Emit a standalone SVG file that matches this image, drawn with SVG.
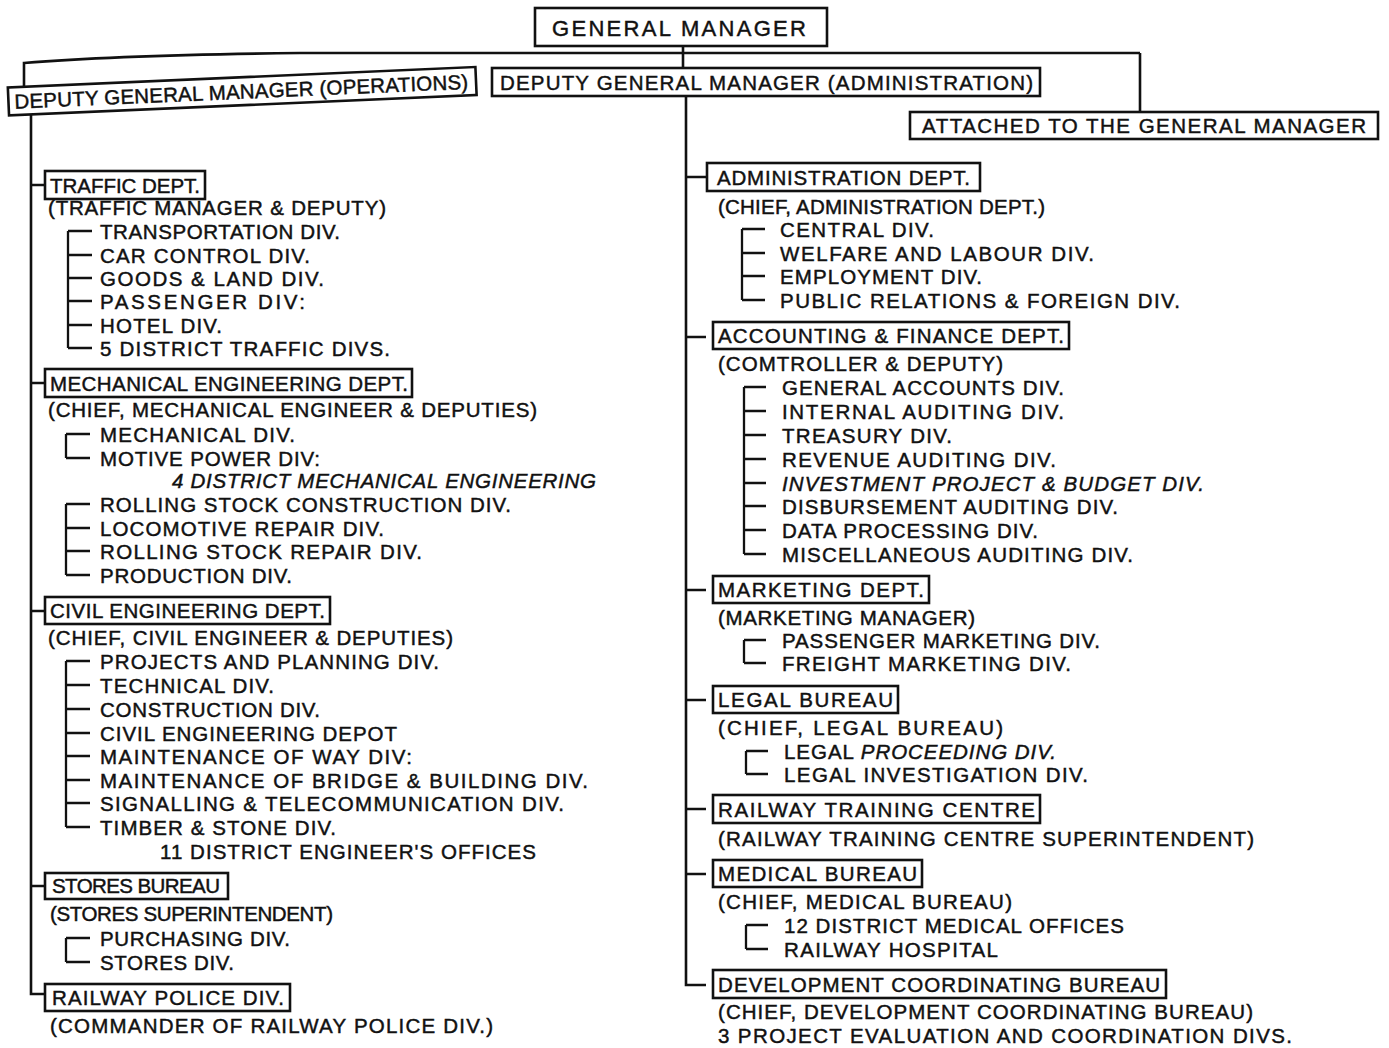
<svg xmlns="http://www.w3.org/2000/svg" width="1389" height="1048" viewBox="0 0 1389 1048">
<style>
text{font-family:"Liberation Sans",Arial,sans-serif;font-size:20.5px;fill:#111;stroke:#111;stroke-width:0.45px;}
.gm{font-size:22px;}
.it{font-style:italic;}
.box{fill:#fff;stroke:#111;stroke-width:2.6;}
.ln{fill:none;stroke:#111;stroke-width:2.6;}
.br{fill:none;stroke:#111;stroke-width:2.3;}
</style>
<rect width="1389" height="1048" fill="#fff"/>
<g id="connectors">
<path class="ln" d="M683 46 L683 68"/>
<path class="ln" d="M1140 53 L300 53 Q120 55 24 63 L24 87"/>
<path class="ln" d="M1140 53 L1140 112"/>
<path class="ln" d="M31 114 L31 994 L45 994"/>
<path class="ln" d="M31 185 L45 185 M31 383 L45 383 M31 611 L45 611 M31 886 L45 886"/>
<path class="ln" d="M686 96 L686 985 L706 985"/>
<path class="ln" d="M686 177 L707 177 M686 337 L706 337 M686 590 L706 590 M686 700 L706 700 M686 809 L706 809 M686 874 L706 874"/>
<path class="br" d="M68 231 L68 348 M68 231 L92 231 M68 255 L92 255 M68 278 L92 278 M68 301 L92 301 M68 325 L92 325 M68 348 L92 348"/>
<path class="br" d="M66 434 L66 458 M66 434 L90 434 M66 458 L90 458"/>
<path class="br" d="M66 504 L66 575 M66 504 L90 504 M66 528 L90 528 M66 551 L90 551 M66 575 L90 575"/>
<path class="br" d="M66 661 L66 827 M66 661 L90 661 M66 685 L90 685 M66 709 L90 709 M66 733 L90 733 M66 756 L90 756 M66 780 L90 780 M66 803 L90 803 M66 827 L90 827"/>
<path class="br" d="M66 938 L66 962 M66 938 L90 938 M66 962 L90 962"/>
<path class="br" d="M742 229 L742 300 M742 229 L765 229 M742 253 L765 253 M742 276 L765 276 M742 300 L765 300"/>
<path class="br" d="M744 387 L744 554 M744 387 L766 387 M744 411 L766 411 M744 435 L766 435 M744 459 L766 459 M744 483 L766 483 M744 506 L766 506 M744 530 L766 530 M744 554 L766 554"/>
<path class="br" d="M744 640 L744 663 M744 640 L766 640 M744 663 L766 663"/>
<path class="br" d="M746 751 L746 774 M746 751 L768 751 M746 774 L768 774"/>
<path class="br" d="M746 925 L746 949 M746 925 L768 925 M746 949 L768 949"/>
</g>
<g id="general-manager">
<rect class="box" x="535" y="8" width="292" height="38"/>
<text class="gm" x="552" y="36" textLength="254" lengthAdjust="spacing">GENERAL MANAGER</text>
</g>
<g id="dgm-operations" transform="rotate(-2.5 476 81)">
<rect class="box" x="8" y="67" width="468" height="28"/>
<text x="14" y="88.5" textLength="454" lengthAdjust="spacing">DEPUTY GENERAL MANAGER (OPERATIONS)</text>
</g>
<g id="dgm-administration">
<rect class="box" x="492" y="68" width="548" height="28"/>
<text x="500" y="89.5" textLength="533" lengthAdjust="spacing">DEPUTY GENERAL MANAGER (ADMINISTRATION)</text>
</g>
<g id="attached">
<rect class="box" x="910" y="112" width="468" height="27"/>
<text x="922" y="133" textLength="444" lengthAdjust="spacing">ATTACHED TO THE GENERAL MANAGER</text>
</g>
<g id="traffic-dept">
<rect class="box" x="45" y="171" width="160" height="28"/>
<text x="50" y="192.5" textLength="150" lengthAdjust="spacing">TRAFFIC DEPT.</text>
<text x="48" y="215" textLength="338" lengthAdjust="spacing">(TRAFFIC MANAGER &amp; DEPUTY)</text>
<text x="100" y="239" textLength="240" lengthAdjust="spacing">TRANSPORTATION DIV.</text>
<text x="100" y="263" textLength="210" lengthAdjust="spacing">CAR CONTROL DIV.</text>
<text x="100" y="286" textLength="224" lengthAdjust="spacing">GOODS &amp; LAND DIV.</text>
<text x="100" y="309" textLength="205" lengthAdjust="spacing">PASSENGER DIV:</text>
<text x="100" y="333" textLength="122" lengthAdjust="spacing">HOTEL DIV.</text>
<text x="100" y="356" textLength="290" lengthAdjust="spacing">5 DISTRICT TRAFFIC DIVS.</text>
</g>
<g id="mechanical-dept">
<rect class="box" x="45" y="369" width="367" height="28"/>
<text x="50" y="390.5" textLength="358" lengthAdjust="spacing">MECHANICAL ENGINEERING DEPT.</text>
<text x="48" y="417" textLength="489" lengthAdjust="spacing">(CHIEF, MECHANICAL ENGINEER &amp; DEPUTIES)</text>
<text x="100" y="442" textLength="195" lengthAdjust="spacing">MECHANICAL DIV.</text>
<text x="100" y="466" textLength="220" lengthAdjust="spacing">MOTIVE POWER DIV:</text>
<text class="it" x="172" y="488" textLength="424" lengthAdjust="spacing">4 DISTRICT MECHANICAL ENGINEERING</text>
<text x="100" y="512" textLength="411" lengthAdjust="spacing">ROLLING STOCK CONSTRUCTION DIV.</text>
<text x="100" y="536" textLength="284" lengthAdjust="spacing">LOCOMOTIVE REPAIR DIV.</text>
<text x="100" y="559" textLength="322" lengthAdjust="spacing">ROLLING STOCK REPAIR DIV.</text>
<text x="100" y="583" textLength="192" lengthAdjust="spacing">PRODUCTION DIV.</text>
</g>
<g id="civil-dept">
<rect class="box" x="45" y="597" width="285" height="27"/>
<text x="50" y="618" textLength="275" lengthAdjust="spacing">CIVIL ENGINEERING DEPT.</text>
<text x="48" y="645" textLength="405" lengthAdjust="spacing">(CHIEF, CIVIL ENGINEER &amp; DEPUTIES)</text>
<text x="100" y="669" textLength="339" lengthAdjust="spacing">PROJECTS AND PLANNING DIV.</text>
<text x="100" y="693" textLength="174" lengthAdjust="spacing">TECHNICAL DIV.</text>
<text x="100" y="717" textLength="220" lengthAdjust="spacing">CONSTRUCTION DIV.</text>
<text x="100" y="741" textLength="297" lengthAdjust="spacing">CIVIL ENGINEERING DEPOT</text>
<text x="100" y="764" textLength="312" lengthAdjust="spacing">MAINTENANCE OF WAY DIV:</text>
<text x="100" y="788" textLength="488" lengthAdjust="spacing">MAINTENANCE OF BRIDGE &amp; BUILDING DIV.</text>
<text x="100" y="811" textLength="464" lengthAdjust="spacing">SIGNALLING &amp; TELECOMMUNICATION DIV.</text>
<text x="100" y="835" textLength="236" lengthAdjust="spacing">TIMBER &amp; STONE DIV.</text>
<text x="160" y="859" textLength="376" lengthAdjust="spacing">11 DISTRICT ENGINEER'S OFFICES</text>
</g>
<g id="stores-bureau">
<rect class="box" x="45" y="873" width="183" height="26"/>
<text x="52" y="893" textLength="168" lengthAdjust="spacing">STORES BUREAU</text>
<text x="50" y="921" textLength="283" lengthAdjust="spacing">(STORES SUPERINTENDENT)</text>
<text x="100" y="946" textLength="190" lengthAdjust="spacing">PURCHASING DIV.</text>
<text x="100" y="970" textLength="134" lengthAdjust="spacing">STORES DIV.</text>
</g>
<g id="railway-police">
<rect class="box" x="45" y="984" width="245" height="27"/>
<text x="52" y="1005" textLength="232" lengthAdjust="spacing">RAILWAY POLICE DIV.</text>
<text x="50" y="1033" textLength="443" lengthAdjust="spacing">(COMMANDER OF RAILWAY POLICE DIV.)</text>
</g>
<g id="administration-dept">
<rect class="box" x="707" y="163" width="273" height="28"/>
<text x="717" y="184.5" textLength="253" lengthAdjust="spacing">ADMINISTRATION DEPT.</text>
<text x="718" y="214" textLength="327" lengthAdjust="spacing">(CHIEF, ADMINISTRATION DEPT.)</text>
<text x="780" y="237" textLength="154" lengthAdjust="spacing">CENTRAL DIV.</text>
<text x="780" y="261" textLength="314" lengthAdjust="spacing">WELFARE AND LABOUR DIV.</text>
<text x="780" y="284" textLength="202" lengthAdjust="spacing">EMPLOYMENT DIV.</text>
<text x="780" y="308" textLength="400" lengthAdjust="spacing">PUBLIC RELATIONS &amp; FOREIGN DIV.</text>
</g>
<g id="accounting-dept">
<rect class="box" x="713" y="322" width="356" height="27"/>
<text x="718" y="343" textLength="346" lengthAdjust="spacing">ACCOUNTING &amp; FINANCE DEPT.</text>
<text x="718" y="371" textLength="285" lengthAdjust="spacing">(COMTROLLER &amp; DEPUTY)</text>
<text x="782" y="395" textLength="282" lengthAdjust="spacing">GENERAL ACCOUNTS DIV.</text>
<text x="782" y="419" textLength="282" lengthAdjust="spacing">INTERNAL AUDITING DIV.</text>
<text x="782" y="443" textLength="170" lengthAdjust="spacing">TREASURY DIV.</text>
<text x="782" y="467" textLength="274" lengthAdjust="spacing">REVENUE AUDITING DIV.</text>
<text class="it" x="782" y="491" textLength="422" lengthAdjust="spacing">INVESTMENT PROJECT &amp; BUDGET DIV.</text>
<text x="782" y="514" textLength="336" lengthAdjust="spacing">DISBURSEMENT AUDITING DIV.</text>
<text x="782" y="538" textLength="256" lengthAdjust="spacing">DATA PROCESSING DIV.</text>
<text x="782" y="562" textLength="351" lengthAdjust="spacing">MISCELLANEOUS AUDITING DIV.</text>
</g>
<g id="marketing-dept">
<rect class="box" x="713" y="576" width="216" height="27"/>
<text x="718" y="597" textLength="206" lengthAdjust="spacing">MARKETING DEPT.</text>
<text x="718" y="625" textLength="257" lengthAdjust="spacing">(MARKETING MANAGER)</text>
<text x="782" y="648" textLength="318" lengthAdjust="spacing">PASSENGER MARKETING DIV.</text>
<text x="782" y="671" textLength="289" lengthAdjust="spacing">FREIGHT MARKETING DIV.</text>
</g>
<g id="legal-bureau">
<rect class="box" x="713" y="686" width="185" height="27"/>
<text x="718" y="707" textLength="175" lengthAdjust="spacing">LEGAL BUREAU</text>
<text x="718" y="735" textLength="285" lengthAdjust="spacing">(CHIEF, LEGAL BUREAU)</text>
<text x="784" y="759" textLength="272" lengthAdjust="spacing">LEGAL <tspan class="it">PROCEEDING DIV.</tspan></text>
<text x="784" y="782" textLength="304" lengthAdjust="spacing">LEGAL INVESTIGATION DIV.</text>
</g>
<g id="training-centre">
<rect class="box" x="713" y="795" width="327" height="28"/>
<text x="718" y="816.5" textLength="317" lengthAdjust="spacing">RAILWAY TRAINING CENTRE</text>
<text x="718" y="846" textLength="536" lengthAdjust="spacing">(RAILWAY TRAINING CENTRE SUPERINTENDENT)</text>
</g>
<g id="medical-bureau">
<rect class="box" x="713" y="860" width="209" height="27"/>
<text x="718" y="881" textLength="199" lengthAdjust="spacing">MEDICAL BUREAU</text>
<text x="718" y="909" textLength="294" lengthAdjust="spacing">(CHIEF, MEDICAL BUREAU)</text>
<text x="784" y="933" textLength="340" lengthAdjust="spacing">12 DISTRICT MEDICAL OFFICES</text>
<text x="784" y="957" textLength="214" lengthAdjust="spacing">RAILWAY HOSPITAL</text>
</g>
<g id="development-bureau">
<rect class="box" x="713" y="970" width="453" height="28"/>
<text x="718" y="991.5" textLength="442" lengthAdjust="spacing">DEVELOPMENT COORDINATING BUREAU</text>
<text x="718" y="1019" textLength="535" lengthAdjust="spacing">(CHIEF, DEVELOPMENT COORDINATING BUREAU)</text>
<text x="718" y="1043" textLength="574" lengthAdjust="spacing">3 PROJECT EVALUATION AND COORDINATION DIVS.</text>
</g>
</svg>
